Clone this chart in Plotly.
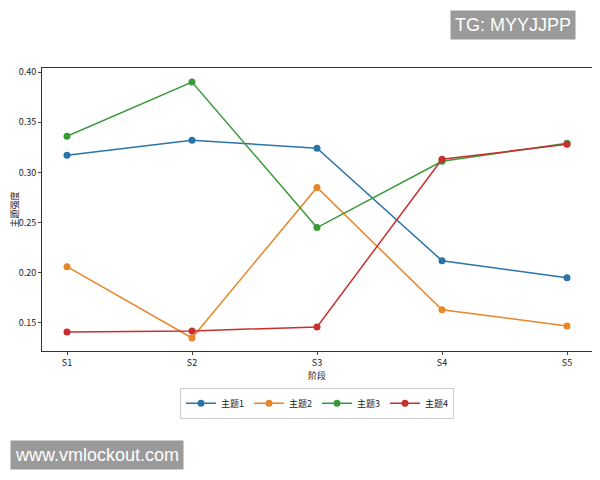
import plotly.graph_objects as go

stages = ["S1", "S2", "S3", "S4", "S5"]
names = ["主题1", "主题2", "主题3", "主题4"]
t1 = [0.317, 0.332, 0.324, 0.212, 0.195]
t2 = [0.206, 0.135, 0.285, 0.163, 0.147]
t3 = [0.336, 0.390, 0.245, 0.311, 0.329]
t4 = [0.141, 0.142, 0.146, 0.313, 0.328]
colors = ["#2a74a8", "#e8862a", "#3a9a3a", "#c7302f"]

fig = go.Figure()
for n, v, c in zip(names, [t1, t2, t3, t4], colors):
    fig.add_trace(go.Scatter(x=list(range(5)), y=v, name=n, mode="lines+markers",
                             line=dict(color=c, width=1.5), marker=dict(size=7, color=c)))

font = "Noto Sans CJK SC"
fig.update_layout(
    width=592, height=472, paper_bgcolor="white", plot_bgcolor="white",
    margin=dict(l=34, r=8, t=60, b=129),
    font=dict(family=font, size=9, color="#222"),
    showlegend=True,
    legend=dict(orientation="h", x=0.5, xanchor="center", y=-0.13, yanchor="top",
                bordercolor="#ccc", borderwidth=1, font=dict(size=9)),
    xaxis=dict(tickvals=list(range(5)), ticktext=stages, range=[-0.2, 4.2],
               showgrid=False, showline=True, linecolor="#333", mirror=True,
               ticks="outside", ticklen=3, zeroline=False, automargin=False,
               title=dict(text="阶段", standoff=4, font=dict(size=9))),
    yaxis=dict(range=[0.122, 0.404], tickvals=[0.15, 0.20, 0.25, 0.30, 0.35, 0.40],
               ticktext=["0.15", "0.20", "0.25", "0.30", "0.35", "0.40"],
               showgrid=False, showline=True, linecolor="#333", mirror=True,
               ticks="outside", ticklen=3, zeroline=False, automargin=False,
               title=dict(text="主题强度", standoff=4, font=dict(size=9))),
    annotations=[
        dict(text="TG: MYYJJPP", xref="paper", yref="paper", x=0.742, y=1.205,
             xanchor="left", yanchor="top", showarrow=False, bgcolor="#9a9a9a",
             font=dict(color="white", size=18, family="Liberation Sans"), borderpad=4),
        dict(text="www.vmlockout.com", xref="paper", yref="paper", x=-0.058, y=-0.314,
             xanchor="left", yanchor="top", showarrow=False, bgcolor="#9a9a9a",
             font=dict(color="white", size=18, family="Liberation Sans"), borderpad=4),
    ],
)
fig.write_html("out.html")
